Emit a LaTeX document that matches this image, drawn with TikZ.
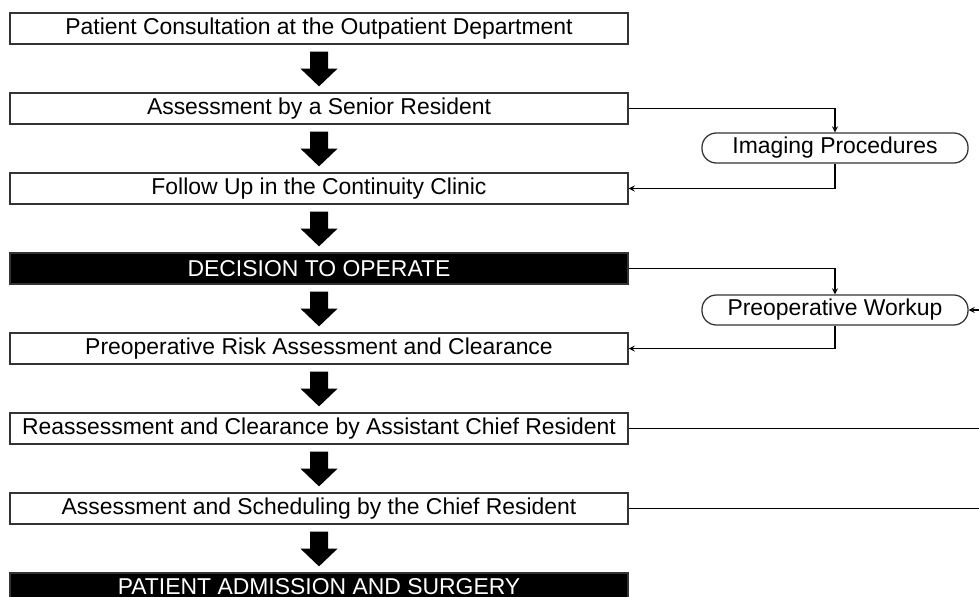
\documentclass[tikz,border=0pt]{standalone}
\usepackage{fontspec}
\setmainfont{Liberation Sans}
\usetikzlibrary{shapes,arrows,positioning,calc}
\tikzstyle{arrow} = [->,>=stealth,line width=0.9pt]
\tikzstyle{stepbox} = [draw=black!80, line width=0.9pt, minimum width=15.45cm, minimum height=0.775cm, inner sep=0pt]
\tikzstyle{darkbox} = [stepbox, fill=black, text=white]
\tikzstyle{pill} = [draw=black!80, line width=0.9pt, rounded corners=0.36cm, minimum width=6.65cm, minimum height=0.75cm, inner sep=0pt]

\begin{document}
\begin{tikzpicture}[x=0.025cm, y=-0.025cm, font=\fontsize{16.3}{19}\selectfont, node distance=1.193cm]
    \useasboundingbox (0,0) rectangle (979,597);

    % main column
    \node[stepbox] (consult) at (319,28.5) {Patient Consultation at the Outpatient Department};
    \node[stepbox, below=of consult] (senior) {Assessment by a Senior Resident};
    \node[stepbox, below=of senior] (followup) {Follow Up in the Continuity Clinic};
    \node[darkbox, below=of followup] (decision) {DECISION TO OPERATE};
    \node[stepbox, below=of decision] (risk) {Preoperative Risk Assessment and Clearance};
    \node[stepbox, below=of risk] (reassess) {Reassessment and Clearance by Assistant Chief Resident};
    \node[stepbox, below=of reassess] (chief) {Assessment and Scheduling by the Chief Resident};
    \node[darkbox, minimum height=0.66cm, below=of chief] (admit) {PATIENT ADMISSION AND SURGERY};

    % side branches
    \node[pill] (imaging) at (835,148) {Imaging Procedures};
    \node[pill] (workup) at (835,310) {Preoperative Workup};
    \coordinate (edge) at (979,310);

    % block arrows
    \foreach \a/\b in {consult/senior, senior/followup, followup/decision, decision/risk,
                       risk/reassess, reassess/chief, chief/admit}
        \fill ($(\a.south)+(-9,7)$) -- ($(\a.south)+(9,7)$) -- ($(\a.south)+(9,24)$)
            -- ($(\a.south)+(18.5,24)$) -- ($(\b.north)+(0,-6)$)
            -- ($(\a.south)+(-18.5,24)$) -- ($(\a.south)+(-9,24)$) -- cycle;

    \draw[arrow] (senior.east) -| (imaging.north);
    \draw[arrow] (imaging.south) |- (followup.east);
    \draw[arrow] (decision.east) -| (workup.north);
    \draw[arrow] (workup.south) |- (risk.east);
    \draw[arrow] (edge) -- (workup.east);
    \draw[line width=0.9pt] (reassess.east) -- (reassess.east -| edge);
    \draw[line width=0.9pt] (chief.east) -- (chief.east -| edge);
\end{tikzpicture}
\end{document}
